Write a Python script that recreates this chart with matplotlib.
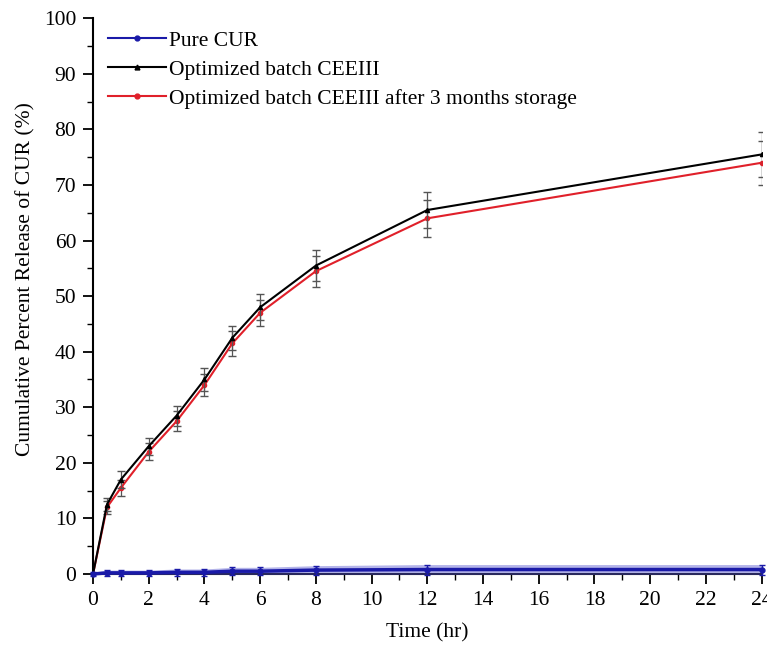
import numpy as np
import matplotlib.pyplot as plt
from matplotlib.ticker import MultipleLocator

plt.rcParams['font.family'] = 'Liberation Serif'

time_hr = [0, 0.5, 1, 2, 3, 4, 5, 6, 8, 12, 24]
pure_cur = [0, 0.2, 0.2, 0.2, 0.3, 0.3, 0.5, 0.5, 0.7, 0.8, 0.8]
pure_err = [0.3, 0.5, 0.5, 0.5, 0.6, 0.6, 0.7, 0.7, 0.8, 0.9, 0.9]
batch = [0, 12.5, 17, 23, 28.5, 35, 42.5, 48, 55.5, 65.5, 75.5]
batch_err = [0, 1.2, 1.5, 1.5, 1.8, 2.0, 2.2, 2.3, 2.8, 3.3, 4.0]
stored = [0, 12, 15.5, 22, 27.5, 34, 41.5, 47, 54.5, 64, 74]
stored_err = [0, 1.2, 1.5, 1.5, 1.8, 2.0, 2.2, 2.3, 2.8, 3.3, 4.0]

fig = plt.figure(figsize=(7.67, 6.53), dpi=100)
ax = fig.add_axes([0.1213, 0.121, 0.8717, 0.851])

ax.errorbar(time_hr, stored, yerr=stored_err, color='#e0202a', marker='o', markersize=3,
            lw=1.5, ecolor='#555555', elinewidth=0.9, capsize=3,
            label='Optimized batch CEEIII after 3 months storage', zorder=2)
ax.errorbar(time_hr, batch, yerr=batch_err, color='black', marker='^', markersize=3,
            lw=1.5, ecolor='#555555', elinewidth=0.9, capsize=3,
            label='Optimized batch CEEIII', zorder=3)
lo = np.array(pure_cur) - np.array(pure_err)
hi = np.array(pure_cur) + np.array(pure_err)
ax.fill_between(time_hr, lo, hi, color='#5a5ad0', alpha=0.45, lw=0, zorder=3)
ax.errorbar(time_hr, pure_cur, yerr=pure_err, color='#1a1aa8', marker='o', markersize=3.5,
            lw=2.5, ecolor='#1a1aa8', elinewidth=1, capsize=2,
            label='Pure CUR', zorder=4, clip_on=False)

ax.set_xlim(0, 24)
ax.set_ylim(0, 100)
ax.xaxis.set_major_locator(MultipleLocator(2))
ax.xaxis.set_minor_locator(MultipleLocator(1))
ax.yaxis.set_major_locator(MultipleLocator(10))
ax.yaxis.set_minor_locator(MultipleLocator(5))
ax.spines['top'].set_visible(False)
ax.spines['right'].set_visible(False)
ax.spines['left'].set_linewidth(1.5)
ax.spines['bottom'].set_linewidth(1.5)
ax.tick_params(which='major', direction='out', length=7, width=1.3, labelsize=15.5, pad=5)
ax.tick_params(which='minor', direction='out', length=4, width=1.0)

ax.set_xlabel('Time (hr)', fontsize=15.5, labelpad=10)
ax.set_ylabel('Cumulative Percent Release of CUR (%)', fontsize=15.5)
ax.yaxis.set_label_coords(-0.086, 0.53)

handles, labels = ax.get_legend_handles_labels()
order = [2, 1, 0]
leg_handles = [plt.Line2D([], [], color=handles[i][0].get_color(), marker=handles[i][0].get_marker(),
                          markersize=3.5, lw=1.5) for i in order]
ax.legend(leg_handles, [labels[i] for i in order], loc='upper left',
          bbox_to_anchor=(0.0, 1.005), frameon=False, fontsize=15.5,
          handlelength=2.7, handletextpad=0.15, borderaxespad=0.3, labelspacing=0.42)

fig.savefig('out.png', dpi=100)
